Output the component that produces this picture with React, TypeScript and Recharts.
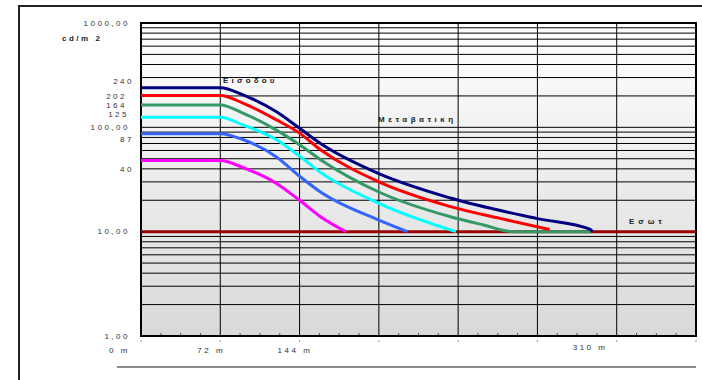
import { LineChart, Line, XAxis, YAxis, CartesianGrid, ReferenceArea } from 'recharts'

// luminance curves, distance in m, luminance in cd/m2
const entranceLine = [
  { m: 0, cd: 240 }, { m: 72, cd: 240 }, { m: 93, cd: 204 }, { m: 123, cd: 141 },
  { m: 144, cd: 98 }, { m: 163, cd: 70 }, { m: 216, cd: 36 },
  { m: 281, cd: 21 }, { m: 359, cd: 13.4 }, { m: 408, cd: 10.5 }, { m: 410, cd: 10 },
]
const redLine = [
  { m: 0, cd: 202 }, { m: 72, cd: 202 }, { m: 93, cd: 170 }, { m: 123, cd: 118 },
  { m: 144, cd: 88 }, { m: 163, cd: 61 }, { m: 216, cd: 30 },
  { m: 281, cd: 17.4 }, { m: 326, cd: 13.4 }, { m: 371, cd: 10.5 },
]
const greenLine = [
  { m: 0, cd: 164 }, { m: 72, cd: 164 }, { m: 93, cd: 136 }, { m: 123, cd: 94 },
  { m: 144, cd: 68 }, { m: 163, cd: 49 }, { m: 216, cd: 24 },
  { m: 281, cd: 13.9 }, { m: 311, cd: 11.6 }, { m: 338, cd: 10 }, { m: 409, cd: 10 },
]
const cyanLine = [
  { m: 0, cd: 125 }, { m: 72, cd: 125 }, { m: 93, cd: 105 }, { m: 123, cd: 76 },
  { m: 144, cd: 53 }, { m: 163, cd: 37 }, { m: 216, cd: 18.7 }, { m: 286, cd: 10 },
]
const blueLine = [
  { m: 0, cd: 87 }, { m: 72, cd: 87 }, { m: 93, cd: 76 }, { m: 123, cd: 52 },
  { m: 144, cd: 34 }, { m: 163, cd: 24 }, { m: 216, cd: 12.9 }, { m: 242, cd: 10 },
]
const magentaLine = [
  { m: 0, cd: 48 }, { m: 72, cd: 48 }, { m: 93, cd: 41 }, { m: 123, cd: 29 },
  { m: 144, cd: 20 }, { m: 163, cd: 13.9 }, { m: 186, cd: 10 },
]
const interiorLine = [{ m: 0, cd: 10 }, { m: 504, cd: 10 }]

const yTicks = [1, 10, 40, 87, 100, 125, 164, 202, 240, 1000]
const yTickLabels: Record<number, string> = {
  1: '1,00', 10: '10,00', 40: '40', 87: '87', 100: '100,00',
  125: '125', 164: '164', 202: '202', 240: '240', 1000: '1000,00',
}
const yGrid = [2, 3, 4, 5, 6, 7, 8, 9, 10, 20, 30, 40, 50, 60, 70, 80, 90, 100, 200, 300, 400, 500, 600, 700, 800, 900]
const xGrid = [72, 144, 216, 288, 360, 432]
const xTicks = [0, 18, 36, 54, 72, 90, 108, 126, 144, 162, 180, 198, 216, 234, 252, 270, 288, 306, 324, 342, 360, 378, 396, 414, 432, 450, 468, 486, 504]
const xTickLabels: Record<number, string> = { 0: '0 m', 72: '72 m', 144: '144 m', 432: '310 m' }

const font = '"Liberation Sans", Arial, sans-serif'

// small nudges so labels sit where the original put them
const yNudge: Record<number, [number, number]> = {
  240: [4, -6], 202: [-3, 1], 164: [-3, 0], 125: [-1, -3], 87: [4, 6], 40: [4, 0],
}
const xNudge: Record<number, [number, number]> = {
  0: [-32, 0], 72: [-23, 0], 144: [-22, 0], 432: [-44, -3],
}

const YTick = ({ y, payload }: any) => {
  const v = payload.value
  const [dx, dy] = yNudge[v] || [0, 0]
  return (
    <text x={130 + dx} y={y + dy} dy="0.35em" textAnchor="end" fontSize={8}
      fill="#333" fontFamily={font} letterSpacing={2.5}>
      {yTickLabels[v]}
    </text>
  )
}

const XTick = ({ x, y, payload }: any) => {
  const v = payload.value
  const major = v % 72 === 0
  const label = xTickLabels[v]
  const [dx, dy] = xNudge[v] || [0, 0]
  return (
    <g>
      {major
        ? <line x1={x} x2={x} y1={y + 4} y2={y + 6} stroke="#999" strokeWidth={1} />
        : <line x1={x} x2={x} y1={y - 3} y2={y - 1} stroke="#555" strokeWidth={1} />}
      {label && (
        <text x={x + dx} y={y + 14 + dy} dy="0.35em" textAnchor="start" fontSize={8}
          fill="#333" fontFamily={font} letterSpacing={2.5}>
          {label}
        </text>
      )}
    </g>
  )
}

const note = (left: number, top: number, spacing: number, text: string, bold = true) => (
  <span style={{
    position: 'absolute', left, top, fontSize: 8, lineHeight: '8px', fontFamily: font,
    fontWeight: bold ? 'bold' : 'normal', letterSpacing: spacing, color: '#222', whiteSpace: 'nowrap',
  }}>{text}</span>
)

const App = () => {
  return (
    <div style={{ position: 'absolute', left: 0, top: 0, width: 702, height: 380, overflow: 'hidden', background: '#fff' }}>
      <div style={{ position: 'absolute', left: 18, top: 5, width: 800, height: 500, borderLeft: '2px solid #222', borderTop: '2px solid #222' }} />
      <LineChart width={702} height={380} margin={{ top: 23, right: 6, bottom: 0, left: 0 }}>
        <defs>
          <linearGradient id="plotBg" x1="0" y1="0" x2="0" y2="1">
            <stop offset="0%" stopColor="#ffffff" />
            <stop offset="100%" stopColor="#d9d9d9" />
          </linearGradient>
        </defs>
        <CartesianGrid
          horizontalValues={yGrid}
          verticalValues={xGrid}
          stroke="#000"
          strokeWidth={1}
          fill="url(#plotBg)"
          fillOpacity={1}
        />
        <XAxis
          dataKey="m"
          type="number"
          domain={[0, 504]}
          ticks={xTicks}
          interval={0}
          height={44}
          axisLine={false}
          tickLine={false}
          tickSize={0}
          tickMargin={0}
          allowDataOverflow
          tick={(p: any) => <XTick {...p} />}
        />
        <YAxis
          type="number"
          scale="log"
          domain={[1, 1000]}
          ticks={yTicks}
          interval={0}
          width={141}
          axisLine={false}
          tickLine={false}
          tickSize={0}
          tickMargin={0}
          allowDataOverflow
          tick={(p: any) => <YTick {...p} />}
        />
        <ReferenceArea x1={0} x2={504} y1={1} y2={1000} fill="none" stroke="#000" strokeWidth={2} />
        <Line data={interiorLine} dataKey="cd" stroke="#990000" strokeWidth={3} dot={false} type="linear" isAnimationActive={false} />
        <Line data={magentaLine} dataKey="cd" stroke="#ff00ff" strokeWidth={3} dot={false} type="monotone" isAnimationActive={false} />
        <Line data={blueLine} dataKey="cd" stroke="#3366ff" strokeWidth={3} dot={false} type="monotone" isAnimationActive={false} />
        <Line data={cyanLine} dataKey="cd" stroke="#00ffff" strokeWidth={3} dot={false} type="monotone" isAnimationActive={false} />
        <Line data={greenLine} dataKey="cd" stroke="#339966" strokeWidth={3} dot={false} type="monotone" isAnimationActive={false} />
        <Line data={redLine} dataKey="cd" stroke="#ff0000" strokeWidth={3} dot={false} type="monotone" isAnimationActive={false} />
        <Line data={entranceLine} dataKey="cd" stroke="#000080" strokeWidth={3} dot={false} type="monotone" isAnimationActive={false} />
      </LineChart>
      <div style={{ position: 'absolute', left: 117, top: 366, width: 579, height: 2, background: '#8a8a8a' }} />
      {note(62, 35, 2.5, 'cd/m 2')}
      {note(223, 77, 3.2, 'Εισοδου')}
      {note(378, 116, 3.5, 'Μεταβατικη')}
      {note(629, 218, 4, 'Εσωτ')}
    </div>
  )
}

export default App
